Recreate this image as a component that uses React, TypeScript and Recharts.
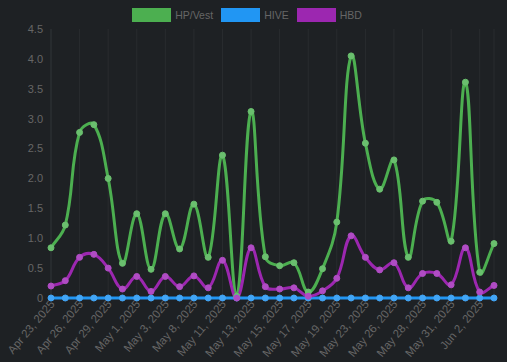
import React from 'react';
import { LineChart, Line, XAxis, YAxis, CartesianGrid, Legend } from 'recharts';

const dates = [
  'Apr 23, 2025', 'Apr 24, 2025', 'Apr 26, 2025', 'Apr 27, 2025', 'Apr 29, 2025', 'Apr 30, 2025',
  'May 1, 2025', 'May 2, 2025', 'May 3, 2025', 'May 6, 2025', 'May 8, 2025', 'May 9, 2025',
  'May 11, 2025', 'May 12, 2025', 'May 13, 2025', 'May 14, 2025', 'May 15, 2025', 'May 16, 2025',
  'May 17, 2025', 'May 18, 2025', 'May 19, 2025', 'May 21, 2025', 'May 23, 2025', 'May 24, 2025',
  'May 26, 2025', 'May 27, 2025', 'May 28, 2025', 'May 30, 2025', 'May 31, 2025', 'Jun 1, 2025',
  'Jun 2, 2025', 'Jun 3, 2025',
];
const hpVest = [
  0.84, 1.22, 2.77, 2.9, 2.0, 0.58, 1.41, 0.48, 1.41, 0.82, 1.57, 0.68,
  2.39, 0.03, 3.12, 0.69, 0.54, 0.59, 0.1, 0.49, 1.27, 4.05, 2.59, 1.82,
  2.31, 0.68, 1.62, 1.6, 0.95, 3.61, 0.43, 0.91,
];
const hive = [
  0, 0, 0, 0, 0, 0, 0, 0, 0, 0, 0, 0, 0, 0, 0, 0,
  0, 0, 0, 0, 0, 0, 0, 0, 0, 0, 0, 0, 0, 0, 0, 0,
];
const hbd = [
  0.2, 0.29, 0.68, 0.73, 0.5, 0.15, 0.36, 0.11, 0.36, 0.19, 0.37, 0.17,
  0.63, 0.0, 0.84, 0.19, 0.15, 0.17, 0.03, 0.12, 0.33, 1.04, 0.68, 0.47,
  0.59, 0.17, 0.41, 0.41, 0.22, 0.84, 0.1, 0.21,
];
const yTicks = [0, 0.5, 1, 1.5, 2, 2.5, 3, 3.5, 4, 4.5];

const data = dates.map((d, i) => ({ date: d, hp: hpVest[i], hive: hive[i], hbd: hbd[i] }));

const series = [
  { key: 'hp', name: 'HP/Vest', color: '#4caf50', dot: '#6abf6e' },
  { key: 'hive', name: 'HIVE', color: '#2196f3', dot: '#42a5f5' },
  { key: 'hbd', name: 'HBD', color: '#9c27b0', dot: '#b04cc4' },
];

const BG = '#1e2124';
const FONT = 'Liberation Sans, Arial, sans-serif';
const TICK = { fill: '#666', fontSize: 11, fontFamily: FONT };

// chart.js style spline (tension 0.4)
const chartjsCurve = (context: any) => {
  let pts: [number, number][] = [];
  return {
    areaStart() {},
    areaEnd() {},
    lineStart() { pts = []; },
    lineEnd() {
      const n = pts.length;
      if (!n) return;
      const t = 0.4;
      const cp = pts.map((p, i) => {
        const prev = pts[i - 1] || p;
        const next = pts[i + 1] || p;
        const d01 = Math.hypot(p[0] - prev[0], p[1] - prev[1]);
        const d12 = Math.hypot(next[0] - p[0], next[1] - p[1]);
        let s01 = d01 / (d01 + d12);
        let s12 = d12 / (d01 + d12);
        if (isNaN(s01)) s01 = 0;
        if (isNaN(s12)) s12 = 0;
        return {
          px: p[0] - t * s01 * (next[0] - prev[0]),
          py: p[1] - t * s01 * (next[1] - prev[1]),
          nx: p[0] + t * s12 * (next[0] - prev[0]),
          ny: p[1] + t * s12 * (next[1] - prev[1]),
        };
      });
      context.moveTo(pts[0][0], pts[0][1]);
      for (let i = 1; i < n; i++) {
        context.bezierCurveTo(cp[i - 1].nx, cp[i - 1].ny, cp[i].px, cp[i].py, pts[i][0], pts[i][1]);
      }
    },
    point(x: number, y: number) { pts.push([+x, +y]); },
  };
};

function LegendBox() {
  return (
    <div style={{ display: 'flex', justifyContent: 'center', gap: 8, fontFamily: FONT, fontSize: 10.5, color: '#666' }}>
      {series.map((s) => (
        <div key={s.key} style={{ display: 'flex', alignItems: 'center', gap: 4 }}>
          <span style={{ display: 'inline-block', width: 37, height: 12, background: s.color, border: `1px solid ${s.color}` }} />
          <span>{s.name}</span>
        </div>
      ))}
    </div>
  );
}

export default function App() {
  return (
    <div style={{ width: 507, height: 362, background: BG, position: 'relative' }}>
      <style>{'body{margin:0;}'}</style>
      <LineChart width={507} height={362} data={data} margin={{ top: 8, right: 13, left: 0, bottom: 0 }}>
        <CartesianGrid stroke="rgba(255,255,255,0.05)" horizontal={false} />
        <Legend verticalAlign="top" height={21} content={() => <LegendBox />} wrapperStyle={{ top: 8 }} />
        <XAxis
          dataKey="date"
          interval={1}
          angle={-50}
          textAnchor="end"
          height={64}
          tick={{ ...TICK, fontSize: 11.5 }}
          tickLine={false}
          axisLine={false}
          dx={-2}
          dy={-7}
        />
        <YAxis
          domain={[0, 4.5]}
          ticks={yTicks}
          tick={TICK}
          tickFormatter={(v: number) => (v === 0 ? '0' : v.toFixed(1))}
          width={51}
          tickLine={false}
          axisLine={{ stroke: '#2c3034' }}
        />
        {series.map((s) => (
          <Line
            key={s.key}
            dataKey={s.key}
            name={s.name}
            type={chartjsCurve as any}
            stroke={s.color}
            strokeWidth={3}
            dot={{ r: 3, fill: s.dot, stroke: s.dot, strokeWidth: 1 }}
            activeDot={false}
            isAnimationActive={false}
          />
        ))}
      </LineChart>
    </div>
  );
}
